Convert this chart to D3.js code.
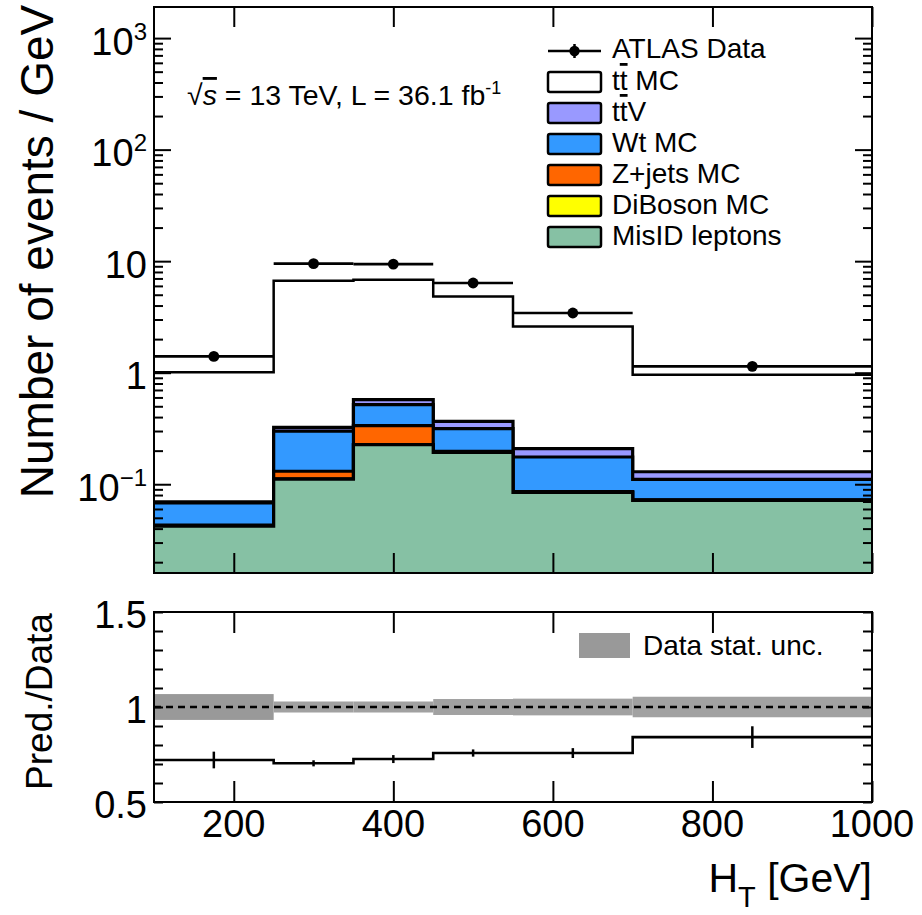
<!DOCTYPE html>
<html><head><meta charset="utf-8">
<script src="https://cdn.jsdelivr.net/npm/d3@7"></script>
<style>
body{margin:0;background:#fff}
svg{display:block}
text{font-family:"Liberation Sans",Arial,Helvetica,sans-serif;fill:#000}
</style>
</head><body>
<svg id="c" width="922" height="915"></svg>
<script>
// ---------------- data ----------------
const binEdges   = [100, 250, 350, 450, 550, 700, 1000];
const dataValues = [1.40, 9.5, 9.4, 6.37, 3.43, 1.14];
const dataStatUnc= [0.068, 0.029, 0.029, 0.042, 0.044, 0.054];   // relative
const misID      = [0.042, 0.111, 0.226, 0.193, 0.0845, 0.0716];
const diboson    = [0.0004, 0.0008, 0.001, 0.0006, 0.0004, 0.0003];
const zjets      = [0.0006, 0.019, 0.109, 0.004, 0.001, 0.0005];
const wt         = [0.025, 0.168, 0.181, 0.118, 0.0895, 0.038];
const ttV        = [0.0015, 0.025, 0.057, 0.051, 0.033, 0.019];
const ttbar      = [0.94, 6.36, 6.25, 4.46, 2.39, 0.83];
const ratioErr   = [0.044, 0.016, 0.021, 0.019, 0.026, 0.057];
const xTickValues = [200, 400, 600, 800, 1000];
const yMajorTicks = [0.1, 1, 10, 100, 1000];
const ratioTickLabels = [0.5, 1, 1.5];

const stackNames  = ["MisID leptons", "DiBoson MC", "Z+jets MC", "Wt MC", "ttV", "tt MC"];
const stackColors = ["#86c1a4", "#ffff00", "#ff6600", "#3399ff", "#9999ff", "#ffffff"];
const stackSeries = [misID, diboson, zjets, wt, ttV, ttbar];

// ---------------- layout ----------------
const svg = d3.select("#c");
const L = 154, R = 872, T = 7, B = 573, RT = 612, RB = 802;
const x  = d3.scaleLinear().domain([100, 1000]).range([L, R]);
const y  = d3.scaleLog().domain([0.016, 1900]).range([B, T]);
const yr = d3.scaleLinear().domain([0.5, 1.5]).range([RB, RT]);

const nb = dataValues.length;
const centers = d3.range(nb).map(i => (binEdges[i] + binEdges[i + 1]) / 2);

// cumulative stack
const cum = [];
stackSeries.forEach((s, k) => {
  cum.push(s.map((v, i) => v + (k > 0 ? cum[k - 1][i] : 0)));
});
const total = cum[cum.length - 1];
const ratio = total.map((t, i) => t / dataValues[i]);

function stepPts(vals) {
  const p = vals.map((v, i) => [binEdges[i], v]);
  p.push([binEdges[nb], vals[nb - 1]]);
  return p;
}

svg.append("defs").append("clipPath").attr("id", "clipTop")
  .append("rect").attr("x", L).attr("y", T).attr("width", R - L).attr("height", B - T);

const gTop = svg.append("g").attr("clip-path", "url(#clipTop)");

const area = d3.area().curve(d3.curveStepAfter)
  .x(d => x(d[0])).y0(y(0.016)).y1(d => y(d[1]));
const line = d3.line().curve(d3.curveStepAfter)
  .x(d => x(d[0])).y(d => y(d[1]));

for (let k = cum.length - 1; k >= 0; k--) {
  const pts = stepPts(cum[k]);
  gTop.append("path").attr("d", area(pts)).attr("fill", stackColors[k]);
  gTop.append("path").attr("d", line(pts)).attr("fill", "none")
    .attr("stroke", "#000").attr("stroke-width", k === cum.length - 1 ? 2.5 : 3.2);
}

// data points
const gData = svg.append("g");
d3.range(nb).forEach(i => {
  const v = dataValues[i];
  gData.append("line").attr("x1", x(binEdges[i])).attr("x2", x(binEdges[i + 1]))
    .attr("y1", y(v)).attr("y2", y(v)).attr("stroke", "#000").attr("stroke-width", 2.6);
  gData.append("line").attr("x1", x(centers[i])).attr("x2", x(centers[i]))
    .attr("y1", y(v * (1 - dataStatUnc[i]))).attr("y2", y(v * (1 + dataStatUnc[i])))
    .attr("stroke", "#000").attr("stroke-width", 2.6);
  gData.append("circle").attr("cx", x(centers[i])).attr("cy", y(v)).attr("r", 5.4).attr("fill", "#000");
});

// ---------------- top panel axes ----------------
const allLog = y.ticks().filter(v => v >= 0.016 && v <= 1900);
const minorLog = allLog.filter(v => Math.abs(Math.log10(v) - Math.round(Math.log10(v))) > 1e-6);

function cleanAxis(g) { g.select(".domain").remove(); g.selectAll("text").remove(); g.selectAll("line").attr("stroke", "#000").attr("stroke-width", 2); }

svg.append("g").attr("transform", `translate(${L},0)`)
  .call(d3.axisLeft(y).tickValues(yMajorTicks).tickSize(-17)).call(cleanAxis);
svg.append("g").attr("transform", `translate(${L},0)`)
  .call(d3.axisLeft(y).tickValues(minorLog).tickSize(-9)).call(cleanAxis);
svg.append("g").attr("transform", `translate(${R},0)`)
  .call(d3.axisRight(y).tickValues(yMajorTicks).tickSize(-17)).call(cleanAxis);
svg.append("g").attr("transform", `translate(${R},0)`)
  .call(d3.axisRight(y).tickValues(minorLog).tickSize(-9)).call(cleanAxis);
svg.append("g").attr("transform", `translate(0,${B})`)
  .call(d3.axisBottom(x).tickValues(xTickValues).tickSize(-20)).call(cleanAxis);
svg.append("g").attr("transform", `translate(0,${T})`)
  .call(d3.axisTop(x).tickValues(xTickValues).tickSize(-20)).call(cleanAxis);

svg.append("rect").attr("x", L).attr("y", T).attr("width", R - L).attr("height", B - T)
  .attr("fill", "none").attr("stroke", "#000").attr("stroke-width", 2);

// y labels (log)
yMajorTicks.forEach(v => {
  const e = Math.round(Math.log10(v));
  const t = svg.append("text").attr("x", 147).attr("y", y(v) + 16.5)
    .attr("text-anchor", "end").style("font-size", "38px");
  if (e === 0) t.text("1");
  else if (e === 1) t.text("10");
  else {
    t.append("tspan").text("10");
    t.append("tspan").attr("dy", -15).style("font-size", "24px").text(e < 0 ? "\u2212" + (-e) : String(e));
  }
});

// ---------------- ratio panel ----------------
const gR = svg.append("g");
d3.range(nb).forEach(i => {
  gR.append("rect").attr("x", x(binEdges[i])).attr("width", x(binEdges[i + 1]) - x(binEdges[i]))
    .attr("y", yr(1 + dataStatUnc[i])).attr("height", yr(1 - dataStatUnc[i]) - yr(1 + dataStatUnc[i]))
    .attr("fill", i === 0 ? "#999999" : "#a1a1a1");
});
gR.append("line").attr("x1", L).attr("x2", R).attr("y1", yr(1)).attr("y2", yr(1))
  .attr("stroke", "#000").attr("stroke-width", 2.5).attr("stroke-dasharray", "7,5");
const rline = d3.line().curve(d3.curveStepAfter).x(d => x(d[0])).y(d => yr(d[1]));
gR.append("path").attr("d", rline(stepPts(ratio))).attr("fill", "none")
  .attr("stroke", "#000").attr("stroke-width", 2.6);
d3.range(nb).forEach(i => {
  gR.append("line").attr("x1", x(centers[i])).attr("x2", x(centers[i]))
    .attr("y1", yr(ratio[i] - ratioErr[i])).attr("y2", yr(ratio[i] + ratioErr[i]))
    .attr("stroke", "#000").attr("stroke-width", 2.5);
});

const rTicks = d3.range(0, 11).map(i => 0.5 + i * 0.1);
svg.append("g").attr("transform", `translate(${L},0)`)
  .call(d3.axisLeft(yr).tickValues(rTicks).tickSize(-9)).call(cleanAxis);
svg.append("g").attr("transform", `translate(${R},0)`)
  .call(d3.axisRight(yr).tickValues(rTicks).tickSize(-9)).call(cleanAxis);
svg.append("g").attr("transform", `translate(0,${RB})`)
  .call(d3.axisBottom(x).tickValues(xTickValues).tickSize(-21)).call(cleanAxis);
svg.append("g").attr("transform", `translate(0,${RT})`)
  .call(d3.axisTop(x).tickValues(xTickValues).tickSize(-21)).call(cleanAxis);
svg.append("rect").attr("x", L).attr("y", RT).attr("width", R - L).attr("height", RB - RT)
  .attr("fill", "none").attr("stroke", "#000").attr("stroke-width", 2);

ratioTickLabels.forEach(v => {
  svg.append("text").attr("x", 147).attr("y", yr(v) + 15.5).attr("text-anchor", "end")
    .style("font-size", "38px").text(String(v));
});
xTickValues.forEach(v => {
  svg.append("text").attr("x", x(v)).attr("y", 837).attr("text-anchor", "middle")
    .style("font-size", "38px").text(String(v));
});

// ---------------- titles ----------------
svg.append("text").attr("transform", "translate(53,251.5) rotate(-90)").attr("text-anchor", "middle")
  .style("font-size", "46px").text("Number of events / GeV");
svg.append("text").attr("transform", "translate(52,701.5) rotate(-90)").attr("text-anchor", "middle")
  .style("font-size", "37px").text("Pred./Data");
const xt = svg.append("text").attr("x", 872).attr("y", 892).attr("text-anchor", "end").style("font-size", "41px");
xt.append("tspan").text("H");
xt.append("tspan").attr("dy", 15).style("font-size", "29px").text("T");
xt.append("tspan").attr("dy", -15).text(" [GeV]");

// energy / lumi label
const el = svg.append("text").attr("x", 187).attr("y", 105).style("font-size", "28.5px");
el.append("tspan").text("\u221A");
el.append("tspan").style("font-style", "italic").style("text-decoration", "overline").text("s");
el.append("tspan").text(" = 13 TeV, L = 36.1 fb");
el.append("tspan").attr("dy", -11).style("font-size", "18px").text("-1");

// ---------------- legend ----------------
const lg = svg.append("g");
const legX = 548, legW = 53, legTextX = 612, rowH = 31, row0 = 51;
lg.append("line").attr("x1", legX).attr("x2", legX + legW).attr("y1", row0).attr("y2", row0)
  .attr("stroke", "#000").attr("stroke-width", 2.5);
lg.append("line").attr("x1", legX + legW / 2).attr("x2", legX + legW / 2).attr("y1", row0 - 7).attr("y2", row0 + 7)
  .attr("stroke", "#000").attr("stroke-width", 2.5);
lg.append("circle").attr("cx", legX + legW / 2).attr("cy", row0).attr("r", 5.2).attr("fill", "#000");
lg.append("text").attr("x", legTextX).attr("y", row0 + 7).style("font-size", "28px").text("ATLAS Data");

const legOrder = [5, 4, 3, 2, 1, 0];
legOrder.forEach((k, j) => {
  const cy = row0 + (j + 1) * rowH;
  lg.append("rect").attr("x", legX).attr("y", cy - 10).attr("width", legW).attr("height", 20)
    .attr("rx", 2).attr("fill", stackColors[k]).attr("stroke", "#000").attr("stroke-width", 2.5);
  const t = lg.append("text").attr("x", legTextX).attr("y", cy + 8).style("font-size", "28px");
  if (k === 5) { t.append("tspan").text("t"); t.append("tspan").style("text-decoration", "overline").text("t"); t.append("tspan").text(" MC"); }
  else if (k === 4) { t.append("tspan").text("t"); t.append("tspan").style("text-decoration", "overline").text("t"); t.append("tspan").text("V"); }
  else t.text(stackNames[k]);
});

// ratio legend
svg.append("rect").attr("x", 579).attr("y", 633).attr("width", 51).attr("height", 25).attr("fill", "#999999");
svg.append("text").attr("x", 643).attr("y", 655).style("font-size", "28px").text("Data stat. unc.");
</script>
</body></html>
